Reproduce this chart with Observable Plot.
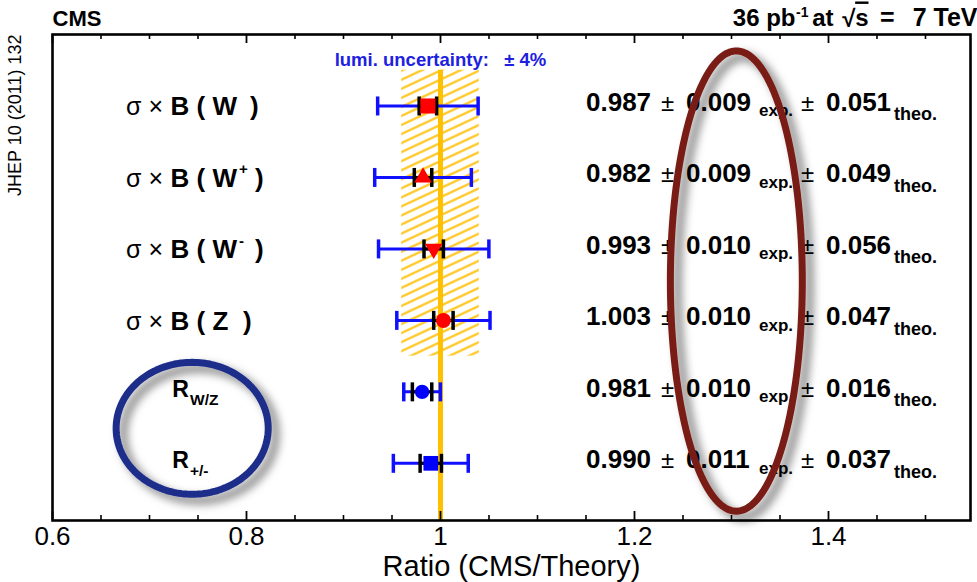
<!DOCTYPE html>
<html>
<head>
<meta charset="utf-8">
<script src="https://cdn.jsdelivr.net/npm/d3@7"></script>
<script src="https://cdn.jsdelivr.net/npm/@observablehq/plot@0.6"></script>
<style>
  html, body { margin: 0; padding: 0; background: #fff; }
  #chart { width: 977px; height: 582px; }
</style>
</head>
<body>
<div id="chart"></div>
<script>
// W and Z inclusive cross sections at sqrt(s) = 7 TeV, measured / predicted
const quantities = ["σ×B(W)", "σ×B(W+)", "σ×B(W-)", "σ×B(Z)", "R(W/Z)", "R(+/-)"];
const ratios     = [0.987, 0.982, 0.993, 1.003, 0.981, 0.990];
const expErrs    = [0.009, 0.009, 0.010, 0.010, 0.010, 0.011];
const theoErrs   = [0.051, 0.049, 0.056, 0.047, 0.016, 0.037];

// pieces of the row labels
const bosonTexts  = ["B ( W", "B ( W", "B ( W", "B ( Z", null, null];
const chargeTexts = [null, "+", "-", null, null, null];
const ratioSubs   = [null, null, null, null, "W/Z", "+/-"];

const lumiUncertainty = 0.04;
const majorTicks = [0.6, 0.8, 1.0, 1.2, 1.4];
const minorTicks = [0.65, 0.7, 0.75, 0.85, 0.9, 0.95, 1.05, 1.1, 1.15, 1.25, 1.3, 1.35, 1.45, 1.5];

// ---- derived table ----
const rows = quantities.map((q, i) => ({
  q, row: i + 1,
  ratio: ratios[i], exp: expErrs[i], theo: theoErrs[i],
  total: Math.hypot(expErrs[i], theoErrs[i]),
  boson: bosonTexts[i], charge: chargeTexts[i], sub: ratioSubs[i]
}));
const xsecRows = rows.filter(d => d.boson);
const ratioRows = rows.filter(d => d.sub);

// ---- layout & style ----
const W = 977, H = 582;
const margin = {top: 34, right: 7, bottom: 62, left: 52};
const frameH = H - margin.top - margin.bottom;
const yMax = 6.8;
const labelColumn = 0.75;   // centre of the row names
const textColumn = 1.15;    // start of the numerical results
const RED = "#ff0000", BLUE = "#1010ff", GOLD = "#ffc000", BROWN = "#7a1d15", NAVY = "#1f2d8a";
const SANS = "'Liberation Sans', Arial, Helvetica, sans-serif";

const markerStyle = {
  "σ×B(W)":  {symbol: "square",   r: 8.5, rotate: 0,   fill: RED},
  "σ×B(W+)": {symbol: "triangle", r: 6.5, rotate: 0,   fill: RED},
  "σ×B(W-)": {symbol: "triangle", r: 6.5, rotate: 180, fill: RED},
  "σ×B(Z)":  {symbol: "circle",   r: 7.5, rotate: 0,   fill: RED},
  "R(W/Z)":  {symbol: "circle",   r: 7.2, rotate: 0,   fill: "#0000ff"},
  "R(+/-)":  {symbol: "square",   r: 8.3, rotate: 0,   fill: "#0000ff"}
};
// offset of the closing bracket after the boson name
const closeDx = {"σ×B(W)": 52, "σ×B(W+)": 57, "σ×B(W-)": 57, "σ×B(Z)": 45};

// vertical bar used for error-bar end caps (half-length = r)
const capSymbol = {
  draw(ctx, size) {
    const h = Math.sqrt(size / Math.PI);
    ctx.moveTo(0, -h);
    ctx.lineTo(0, h);
  }
};

// hand-drawn highlight rings, in data units
const ring = (cx, cy, rx, ry, n = 180) =>
  d3.range(n + 1).map(k => {
    const t = (2 * Math.PI * k) / n;
    return {x: cx + rx * Math.cos(t), y: cy + ry * Math.sin(t)};
  });
const theoRing = ring(1.305, 3.45, 0.068, 3.22);
const ratioRing = ring(0.744, 5.51, 0.0784, 0.923);

const fmt = d3.format(".3f");
const band = [{
  x1: 1 - lumiUncertainty, x2: 1 + lumiUncertainty,
  y1: d3.min(xsecRows, d => d.row) - 0.5, y2: d3.max(xsecRows, d => d.row) + 0.5
}];

const valueText = (text, dx, opts = {}) =>
  Plot.text(rows, {
    x: () => textColumn, y: "row", text, dx, dy: 5,
    textAnchor: "start", lineAnchor: "bottom",
    fontSize: 26, fontWeight: "bold", fontFamily: SANS, fill: "#000", ...opts
  });

const header = (text, dx, opts = {}) =>
  Plot.text([text], {
    frameAnchor: "top-right", dx, dy: -9, textAnchor: "end", lineAnchor: "bottom",
    fontSize: 24, fontWeight: "bold", fontFamily: SANS, ...opts
  });

const plot = Plot.plot({
  width: W, height: H,
  marginTop: margin.top, marginRight: margin.right,
  marginBottom: margin.bottom, marginLeft: margin.left,
  x: {domain: [0.6, 1.5464]},
  y: {domain: [0, yMax], reverse: true, axis: null},
  style: {fontFamily: SANS, background: "#fff", overflow: "visible"},
  marks: [
    // luminosity uncertainty band
    Plot.rect(band, {x1: "x1", x2: "x2", y1: "y1", y2: "y2", fill: "url(#lumiHatch)"}),
    Plot.text(band, {
      x: 1, y: "y1", dy: -4, text: () => `lumi. uncertainty:   ± ${Math.round(lumiUncertainty * 100)}%`,
      lineAnchor: "bottom", fontSize: 18.5, fontWeight: "bold", fill: "#2020e0", fontFamily: SANS
    }),
    Plot.ruleX([1], {y1: band[0].y1, y2: yMax, stroke: GOLD, strokeWidth: 5}),

    // total (blue) and experimental (black) uncertainties
    Plot.ruleY(rows, {y: "row", x1: d => d.ratio - d.total, x2: d => d.ratio + d.total, stroke: BLUE, strokeWidth: 3}),
    Plot.ruleY(rows, {y: "row", x1: d => d.ratio - d.exp, x2: d => d.ratio + d.exp, stroke: "#000", strokeWidth: 3}),
    Plot.dot(rows, {x: d => d.ratio - d.total, y: "row", symbol: capSymbol, r: 9.5, stroke: BLUE, strokeWidth: 3.5, fill: "none"}),
    Plot.dot(rows, {x: d => d.ratio + d.total, y: "row", symbol: capSymbol, r: 9.5, stroke: BLUE, strokeWidth: 3.5, fill: "none"}),
    Plot.dot(rows, {x: d => d.ratio - d.exp, y: "row", symbol: capSymbol, r: 9.5, stroke: "#000", strokeWidth: 3.5, fill: "none"}),
    Plot.dot(rows, {x: d => d.ratio + d.exp, y: "row", symbol: capSymbol, r: 9.5, stroke: "#000", strokeWidth: 3.5, fill: "none"}),

    // central values
    ...rows.map(d => {
      const s = markerStyle[d.q];
      return Plot.dot([d], {x: "ratio", y: "row", symbol: s.symbol, r: s.r, rotate: s.rotate, fill: s.fill, stroke: "none"});
    }),

    // row names
    Plot.text(xsecRows, {x: () => labelColumn, y: "row", text: () => "σ ×", dx: -35, dy: 9.5,
      textAnchor: "end", lineAnchor: "bottom", fontSize: 25, fontFamily: SANS}),
    Plot.text(xsecRows, {x: () => labelColumn, y: "row", text: "boson", dx: -27.5, dy: 9.5,
      textAnchor: "start", lineAnchor: "bottom", fontSize: 26, fontWeight: "bold", fontFamily: SANS}),
    Plot.text(xsecRows.filter(d => d.charge), {x: () => labelColumn, y: "row", text: "charge", dx: 41, dy: -3,
      textAnchor: "start", lineAnchor: "bottom", fontSize: 15, fontWeight: "bold", fontFamily: SANS}),
    ...xsecRows.map(d => Plot.text([d], {x: () => labelColumn, y: "row", text: () => ")", dx: closeDx[d.q], dy: 9.5,
      textAnchor: "start", lineAnchor: "bottom", fontSize: 26, fontWeight: "bold", fontFamily: SANS})),
    Plot.text(ratioRows, {x: () => labelColumn, y: "row", text: () => "R", dx: -9, dy: 5,
      textAnchor: "end", lineAnchor: "bottom", fontSize: 23, fontWeight: "bold", fontFamily: SANS}),
    Plot.text(ratioRows, {x: () => labelColumn, y: "row", text: "sub", dx: -8, dy: 13,
      textAnchor: "start", lineAnchor: "bottom", fontSize: 15.5, fontWeight: "bold", fontFamily: SANS}),

    // numerical results
    valueText(d => fmt(d.ratio), 0),
    valueText(() => "±", 75, {fontWeight: "normal", fontSize: 24}),
    valueText(d => fmt(d.exp), 100),
    valueText(() => "exp.", 173, {fontSize: 17, dy: 10.5}),
    valueText(() => "±", 215, {fontWeight: "normal", fontSize: 24}),
    valueText(d => fmt(d.theo), 240),
    valueText(() => "theo.", 308, {fontSize: 18, dy: 14.5}),

    // highlight rings
    Plot.line(theoRing, {x: "x", y: "y", stroke: BROWN, strokeWidth: 7, curve: "linear", ariaDescription: "ring"}),
    Plot.line(ratioRing, {x: "x", y: "y", stroke: NAVY, strokeWidth: 7, curve: "linear", ariaDescription: "ring"}),

    // frame, inward ticks, tick labels and title
    Plot.frame({stroke: "#000", strokeWidth: 2.6}),
    Plot.ruleX(majorTicks, {x: d => d, insetTop: frameH - 9, stroke: "#000", strokeWidth: 1.8}),
    Plot.ruleX(majorTicks, {x: d => d, insetBottom: frameH - 9, stroke: "#000", strokeWidth: 1.8}),
    Plot.ruleX(minorTicks, {x: d => d, insetTop: frameH - 5, stroke: "#000", strokeWidth: 1.6}),
    Plot.ruleX(minorTicks, {x: d => d, insetBottom: frameH - 5, stroke: "#000", strokeWidth: 1.6}),
    Plot.axisX(majorTicks, {anchor: "bottom", tickSize: 0, tickPadding: 6, fontSize: 26,
      fontFamily: SANS, tickFormat: d => String(d), label: null}),
    Plot.text(["Ratio (CMS/Theory)"], {frameAnchor: "bottom", dy: 55, lineAnchor: "bottom",
      fontSize: 29, fontFamily: SANS}),

    // header and reference
    Plot.text(["CMS"], {frameAnchor: "top-left", dy: -9, textAnchor: "start", lineAnchor: "bottom",
      fontSize: 22, fontWeight: "bold", fontFamily: SANS}),
    header("7 TeV", 7, {fontSize: 25}),
    header("=", -76, {fontSize: 25}),
    header("s", -102, {ariaDescription: "sqrt-arg"}),
    header("√", -115, {dy: -8}),
    header("at", -137),
    header("-1", -162, {dy: -18, fontSize: 14}),
    header("36 pb", -175),
    Plot.text(["JHEP 10 (2011) 132"], {frameAnchor: "top-left", dx: -37, dy: 0, rotate: -90,
      textAnchor: "end", lineAnchor: "middle", fontSize: 18, fontFamily: SANS})
  ]
});

document.getElementById("chart").append(plot);

// hatch pattern for the luminosity band and soft shadow under the rings
const svg = d3.select(plot);
const defs = svg.insert("defs", ":first-child");
const hatch = defs.append("pattern")
  .attr("id", "lumiHatch").attr("patternUnits", "userSpaceOnUse")
  .attr("width", 24).attr("height", 8.2)
  .attr("patternTransform", "rotate(-25)");
hatch.append("line").attr("x1", 0).attr("x2", 24).attr("y1", 4.1).attr("y2", 4.1)
  .attr("stroke", "#ffc51a").attr("stroke-width", 2.2);
const shadow = defs.append("filter").attr("id", "ringShadow")
  .attr("x", "-40%").attr("y", "-20%").attr("width", "180%").attr("height", "140%");
shadow.append("feDropShadow").attr("dx", 7).attr("dy", 6).attr("stdDeviation", 5)
  .attr("flood-color", "#000").attr("flood-opacity", 0.55);
svg.selectAll('g[aria-description="ring"]').attr("filter", "url(#ringShadow)");
svg.selectAll('g[aria-description="sqrt-arg"] text').style("text-decoration", "overline");
</script>
</body>
</html>
